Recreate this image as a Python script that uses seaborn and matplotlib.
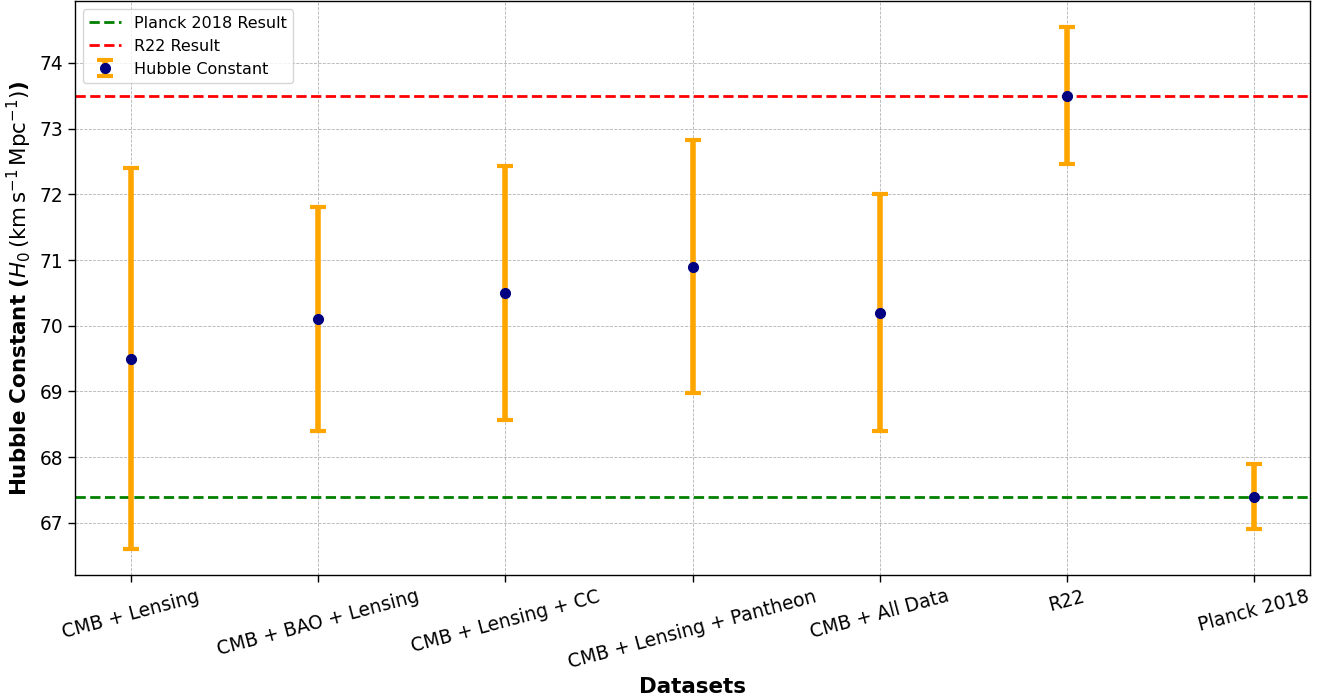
import matplotlib
matplotlib.use("Agg")
import matplotlib.pyplot as plt
import seaborn as sns
import numpy as np

datasets = ["CMB + Lensing", "CMB + BAO + Lensing", "CMB + Lensing + CC",
            "CMB + Lensing + Pantheon", "CMB + All Data", "R22", "Planck 2018"]
h0_values = [69.5, 70.1, 70.5, 70.9, 70.2, 73.5, 67.4]
h0_errors = [2.9, 1.7, 1.93, 1.92, 1.8, 1.04, 0.5]
planck_h0 = 67.4
r22_h0 = 73.5

sns.set_style("white")
plt.rcParams["font.family"] = ["DejaVu Sans"]
plt.rcParams["text.color"] = "black"
plt.rcParams["axes.labelcolor"] = "black"
plt.rcParams["xtick.color"] = "black"
plt.rcParams["ytick.color"] = "black"

fig, ax = plt.subplots(figsize=(13.32, 6.98), dpi=100)
fig.subplots_adjust(left=0.0563, right=0.9835, bottom=0.176, top=0.998)

x = np.arange(len(datasets))
ax.axhline(planck_h0, color="green", linestyle="--", linewidth=2, label="Planck 2018 Result")
ax.axhline(r22_h0, color="red", linestyle="--", linewidth=2, label="R22 Result")
ax.errorbar(x, h0_values, yerr=h0_errors, fmt="o", color="navy", markersize=7,
            ecolor="orange", elinewidth=4, capsize=6, capthick=3,
            label="Hubble Constant", zorder=3)

ax.set_xticks(x)
ax.set_xticklabels(datasets, rotation=15, fontsize=13.4)
ax.tick_params(axis="y", labelsize=13.4)
ax.tick_params(axis="both", direction="out", length=5, width=1, color="black",
               labelcolor="black", bottom=True, left=True)
ax.set_xlabel("Datasets", fontsize=15.4, fontweight="bold", color="black")
ax.set_ylabel(r"Hubble Constant ($H_0\,(\mathrm{km\,s^{-1}\,Mpc^{-1}})$)",
              fontsize=15.4, fontweight="bold", color="black")
ax.grid(True, linestyle="--", linewidth=0.6, color="gray", alpha=0.6)
for sp in ax.spines.values():
    sp.set_color("black")
    sp.set_linewidth(1)
leg = ax.legend(loc="upper left", fontsize=11.5, frameon=True)
for t in leg.get_texts():
    t.set_color("black")

fig.savefig("out.png", dpi=100)
